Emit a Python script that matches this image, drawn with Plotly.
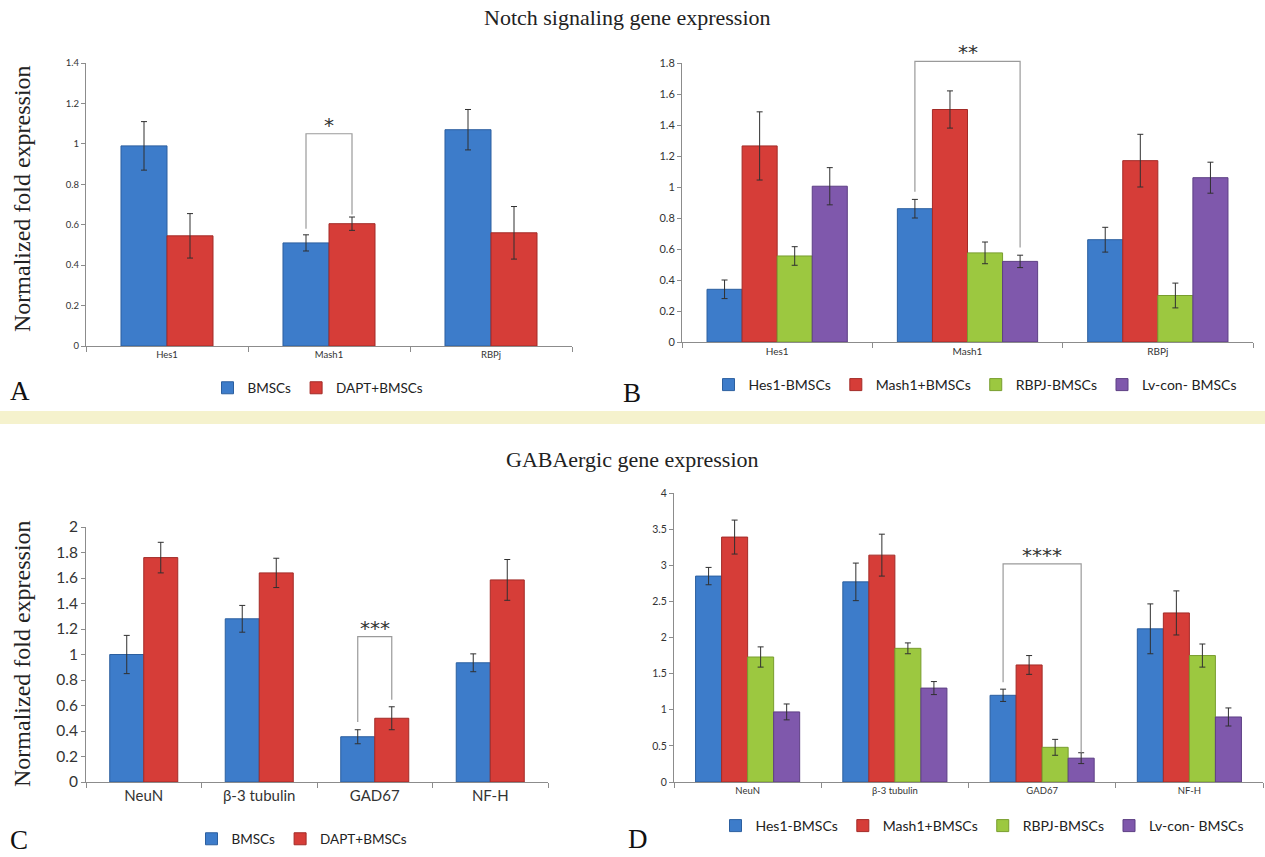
import plotly.graph_objects as go

W, H = 1265, 857

# ---------------- data ----------------
# Panel A: Notch genes, BMSCs vs DAPT+BMSCs
a_cats = ["Hes1", "Mash1", "RBPj"]
a_bmsc = [0.99, 0.51, 1.07]
a_bmsc_err = [0.12, 0.04, 0.10]
a_dapt = [0.545, 0.605, 0.56]
a_dapt_err = [0.11, 0.033, 0.13]

# Panel B: Notch genes, lentiviral groups
b_cats = ["Hes1", "Mash1", "RBPj"]
b_hes1 = [0.34, 0.86, 0.66]
b_hes1_err = [0.06, 0.06, 0.08]
b_mash1 = [1.265, 1.50, 1.17]
b_mash1_err = [0.22, 0.12, 0.17]
b_rbpj = [0.555, 0.575, 0.30]
b_rbpj_err = [0.06, 0.07, 0.08]
b_lvcon = [1.005, 0.52, 1.06]
b_lvcon_err = [0.12, 0.04, 0.10]

# Panel C: GABAergic genes, BMSCs vs DAPT+BMSCs
c_cats = ["NeuN", "β-3 tubulin", "GAD67", "NF-H"]
c_bmsc = [1.00, 1.28, 0.355, 0.935]
c_bmsc_err = [0.15, 0.105, 0.055, 0.07]
c_dapt = [1.76, 1.64, 0.50, 1.585]
c_dapt_err = [0.12, 0.115, 0.09, 0.16]

# Panel D: GABAergic genes, lentiviral groups
d_cats = ["NeuN", "β-3 tubulin", "GAD67", "NF-H"]
d_hes1 = [2.85, 2.77, 1.20, 2.12]
d_hes1_err = [0.12, 0.26, 0.085, 0.345]
d_mash1 = [3.39, 3.14, 1.62, 2.34]
d_mash1_err = [0.235, 0.29, 0.13, 0.305]
d_rbpj = [1.73, 1.85, 0.48, 1.75]
d_rbpj_err = [0.14, 0.075, 0.11, 0.16]
d_lvcon = [0.97, 1.30, 0.33, 0.90]
d_lvcon_err = [0.11, 0.09, 0.075, 0.125]

# significance brackets: (category index, left bar, right bar, top, left foot, right foot, label)
a_bracket = (1, 0, 1, 1.05, 0.58, 0.65, "*")
b_bracket = (1, 0, 3, 1.81, 0.97, 0.61, "**")
c_bracket = (2, 0, 1, 1.14, 0.47, 0.645, "***")
d_bracket = (2, 0, 3, 3.02, 1.38, 0.41, "****")

# ---------------- styles ----------------
BLUE, BLUE_L = "#3d7cca", "#2c5f9f"
RED, RED_L = "#d63d38", "#a32b27"
GREEN, GREEN_L = "#9cc840", "#789d2e"
PURPLE, PURPLE_L = "#7f58ac", "#5d3f84"
AXIS_COL = "#8c8c8c"
TICK_FONT = "Lato"
SERIF = "Liberation Serif"

fig = go.Figure()

def px_x(p):
    return p / W

def px_y(p):
    return 1 - p / H

panels = [
    dict(key="", cats=a_cats, ymax=1.4, dtick=0.2, group=0.568,
         xdom=(86, 572), ydom=(63, 346), tickfont=9.5, catfont=9.5,
         legend="legend", legpos=(318, 388), legfont=13.5,
         series=[("BMSCs", a_bmsc, a_bmsc_err, BLUE, BLUE_L),
                 ("DAPT+BMSCs", a_dapt, a_dapt_err, RED, RED_L)],
         bracket=a_bracket, starsize=20),
    dict(key="2", cats=b_cats, ymax=1.8, dtick=0.2, group=0.737,
         xdom=(682, 1253), ydom=(63, 342), tickfont=11, catfont=10,
         legend="legend2", legpos=(975, 385), legfont=14,
         series=[("Hes1-BMSCs", b_hes1, b_hes1_err, BLUE, BLUE_L),
                 ("Mash1+BMSCs", b_mash1, b_mash1_err, RED, RED_L),
                 ("RBPJ-BMSCs", b_rbpj, b_rbpj_err, GREEN, GREEN_L),
                 ("Lv-con- BMSCs", b_lvcon, b_lvcon_err, PURPLE, PURPLE_L)],
         bracket=b_bracket, starsize=20),
    dict(key="3", cats=c_cats, ymax=2.0, dtick=0.2, group=0.589,
         xdom=(86, 548), ydom=(527, 782), tickfont=15.5, catfont=15,
         legend="legend3", legpos=(302, 839), legfont=13.5,
         series=[("BMSCs", c_bmsc, c_bmsc_err, BLUE, BLUE_L),
                 ("DAPT+BMSCs", c_dapt, c_dapt_err, RED, RED_L)],
         bracket=c_bracket, starsize=20),
    dict(key="4", cats=d_cats, ymax=4.0, dtick=0.5, group=0.707,
         xdom=(674, 1263), ydom=(493, 782), tickfont=10.5, catfont=9.5,
         legend="legend4", legpos=(982, 826), legfont=14,
         series=[("Hes1-BMSCs", d_hes1, d_hes1_err, BLUE, BLUE_L),
                 ("Mash1+BMSCs", d_mash1, d_mash1_err, RED, RED_L),
                 ("RBPJ-BMSCs", d_rbpj, d_rbpj_err, GREEN, GREEN_L),
                 ("Lv-con- BMSCs", d_lvcon, d_lvcon_err, PURPLE, PURPLE_L)],
         bracket=d_bracket, starsize=20),
]

shapes = []
annotations = []
layout = {}

for p in panels:
    k = p["key"]
    xa, ya = "x" + k, "y" + k
    n = len(p["series"])
    w = p["group"] / n
    offsets = [-p["group"] / 2 + w * i for i in range(n)]
    for i, (name, vals, errs, col, lcol) in enumerate(p["series"]):
        fig.add_trace(go.Bar(
            x=p["cats"], y=vals, name=name, xaxis=xa, yaxis=ya,
            width=w, offset=offsets[i],
            marker=dict(color=col, line=dict(color=lcol, width=1)),
            error_y=dict(type="data", array=errs, visible=True,
                         color="#303030", thickness=1, width=3),
            legend=p["legend"], showlegend=True,
        ))
    layout["xaxis" + k] = dict(
        domain=[px_x(p["xdom"][0]), px_x(p["xdom"][1])], anchor=ya,
        type="category", range=[-0.5, len(p["cats"]) - 0.5],
        showline=True, linecolor=AXIS_COL, linewidth=1,
        ticks="outside", tickson="boundaries", ticklen=5, tickcolor=AXIS_COL,
        tickfont=dict(family=TICK_FONT, size=p["catfont"], color="#333333"),
        showgrid=False, zeroline=False, fixedrange=True, automargin=False,
    )
    layout["yaxis" + k] = dict(
        domain=[px_y(p["ydom"][1]), px_y(p["ydom"][0])], anchor=xa,
        range=[0, p["ymax"]], dtick=p["dtick"], tick0=0,
        showline=True, linecolor=AXIS_COL, linewidth=1,
        ticks="outside", ticklen=4, tickcolor=AXIS_COL,
        tickfont=dict(family=TICK_FONT, size=p["tickfont"], color="#333333"),
        showgrid=False, zeroline=False, fixedrange=True, automargin=False,
    )
    layout[p["legend"]] = dict(
        orientation="h", x=px_x(p["legpos"][0]), y=px_y(p["legpos"][1]),
        xanchor="center", yanchor="middle", xref="paper", yref="paper",
        font=dict(family=TICK_FONT, size=p["legfont"], color="#222222"),
        bgcolor="rgba(0,0,0,0)", itemwidth=30, tracegroupgap=0,
        itemclick=False, itemdoubleclick=False,
    )
    # significance bracket
    ci, li, ri, top, lf, rf, label_txt = p["bracket"]
    xl = ci + offsets[li] + w / 2
    xr = ci + offsets[ri] + w / 2
    ymax = p["ymax"]
    path = (f"M {xl},{lf / ymax} L {xl},{top / ymax} "
            f"L {xr},{top / ymax} L {xr},{rf / ymax}")
    shapes.append(dict(type="path", path=path, xref=xa, yref=ya + " domain",
                       line=dict(color="#9a9a9a", width=1.2)))
    annotations.append(dict(x=(xl + xr) / 2, y=top / ymax, xref=xa,
                            yref=ya + " domain", text=label_txt, showarrow=False,
                            xanchor="center", yanchor="bottom", yshift=-5,
                            font=dict(family="DejaVu Sans", size=p["starsize"],
                                      color="#333333")))

# separator band
shapes.append(dict(type="rect", xref="paper", yref="paper", x0=0, x1=1,
                   y0=px_y(424), y1=px_y(411), fillcolor="#f5f2cd",
                   line=dict(width=0), layer="below"))

def label(text, cx, cy, size, angle=0, color="#222222"):
    annotations.append(dict(text=text, x=px_x(cx), y=px_y(cy), xref="paper",
                            yref="paper", showarrow=False, textangle=angle,
                            xanchor="center", yanchor="middle",
                            font=dict(family=SERIF, size=size, color=color)))

# titles
label("Notch signaling gene expression", 627, 17, 22)
label("GABAergic gene expression", 632, 459, 22)
# y-axis titles
label("Normalized fold expression", 22, 199, 24, angle=-90)
label("Normalized fold expression", 22, 654, 24, angle=-90)
# panel letters
for letter, (lx, ly) in zip("ABCD", [(20, 391), (632, 393), (19, 840), (638, 839)]):
    label(letter, lx, ly, 27, color="#111111")

fig.update_layout(
    width=W, height=H, autosize=False,
    margin=dict(l=0, r=0, t=0, b=0, pad=0, autoexpand=False),
    paper_bgcolor="white", plot_bgcolor="white",
    barmode="overlay", shapes=shapes, annotations=annotations,
    **layout,
)

fig.write_html(
    "out.html",
    config={"responsive": False, "displayModeBar": False},
    post_script="document.body.style.margin='0px';document.body.style.overflow='hidden';",
)
